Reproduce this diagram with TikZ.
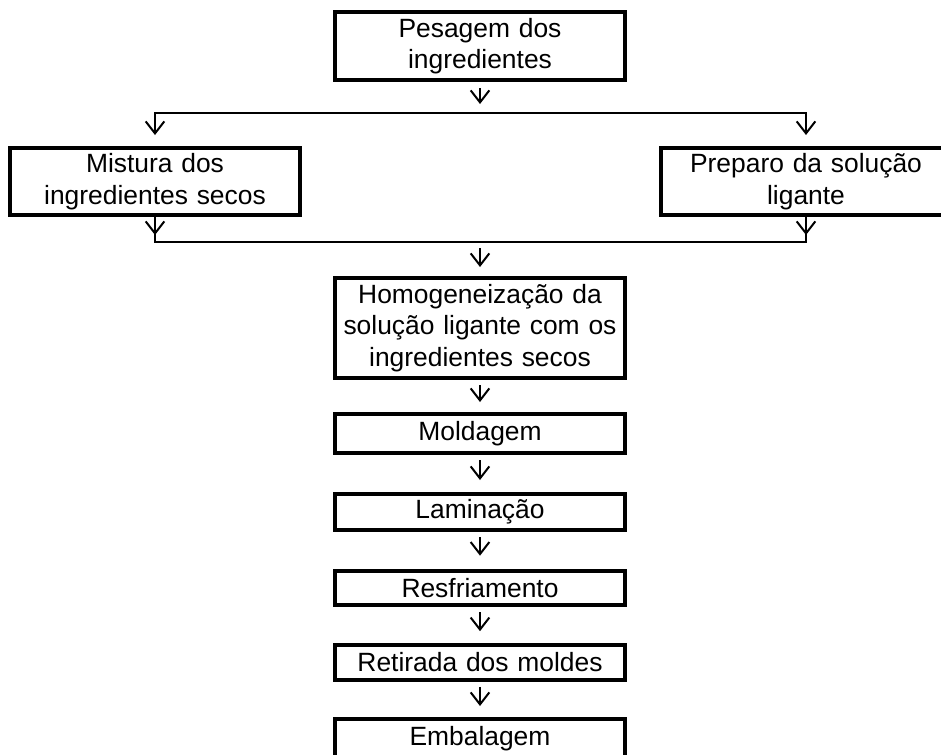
\documentclass[tikz,border=0pt]{standalone}
\usepackage{fontspec}
\setmainfont{Liberation Sans}
\usetikzlibrary{arrows.meta,calc}
\begin{document}
\begin{tikzpicture}[x=0.75pt,y=-0.75pt,
  box/.style={draw,line width=3pt,rectangle,inner sep=0pt,minimum width=217.5pt,
    align=center,text width=212pt,font=\fontsize{19.8pt}{23.7pt}\selectfont},
  tip/.tip={Straight Barb[length=9pt,width=14pt]},
  arr/.style={-tip,line width=1.5pt},
  ln/.style={line width=1.5pt}]
\useasboundingbox (0,0) rectangle (941,754);
\clip (0,0) rectangle (941,754);
\node[box,minimum height=51pt] (pes) at (480,46) {Pesagem dos\\ingredientes};
\node[box,minimum height=50.25pt] (mis) at (155,181.5) {Mistura dos\\ingredientes secos};
\node[box,minimum height=50.25pt] (pre) at (806,181.5) {Preparo da solução\\ligante};
\node[box,minimum height=75pt] (hom) at (480,328) {Homogeneização da\\solução ligante com os\\ingredientes secos};
\node[box,minimum height=29.25pt] (mol) at (480,433.5) {Moldagem};
\node[box,minimum height=27pt] (lam) at (480,512) {Laminação};
\node[box,minimum height=26pt] (res) at (480,588) {Resfriamento};
\node[box,minimum height=26pt] (ret) at (480,662.5) {Retirada dos moldes};
\node[box,minimum height=30pt] (emb) at (480,739) {Embalagem};
\coordinate (s1) at (480,113);
\coordinate (s2) at (480,242);
\draw[arr] ($(pes.south)+(0,6)$) -- ($(pes.south)+(0,22)$);
\draw[tip-tip,line width=1.5pt] ($(mis.north)+(0,-11)$) -- (s1 -| mis.north) -- (s1 -| pre.north) -- ($(pre.north)+(0,-11)$);
\draw[ln] (mis.south) -- (s2 -| mis.south) -- (s2 -| pre.south) -- (pre.south);
\draw[arr] (mis.south) -- ++(0,18);
\draw[arr] (pre.south) -- ++(0,18);
\draw[arr] ($(s2)+(0,6)$) -- ($(hom.north)+(0,-9)$);
\draw[arr] ($(hom.south)+(0,5)$) -- ($(mol.north)+(0,-10)$);
\draw[arr] ($(mol.south)+(0,5)$) -- ($(lam.north)+(0,-12)$);
\draw[arr] ($(lam.south)+(0,5)$) -- ($(res.north)+(0,-13)$);
\draw[arr] ($(res.south)+(0,5)$) -- ($(ret.north)+(0,-12)$);
\draw[arr] ($(ret.south)+(0,5)$) -- ($(emb.north)+(0,-11)$);
\end{tikzpicture}
\end{document}
